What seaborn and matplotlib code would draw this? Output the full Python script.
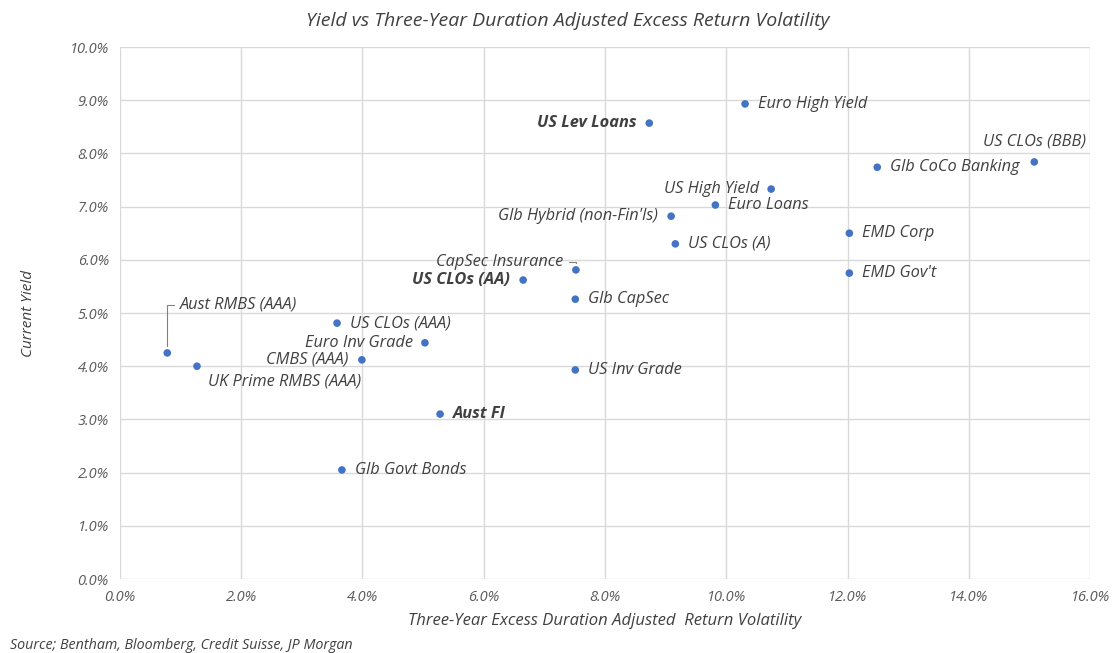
import numpy as np
import pandas as pd
import matplotlib
matplotlib.use("Agg")
import matplotlib.pyplot as plt
import seaborn as sns
from matplotlib.ticker import PercentFormatter

# data (x: volatility %, y: current yield %)
names = ["Aust RMBS (AAA)", "UK Prime RMBS (AAA)", "US CLOs (AAA)", "CMBS (AAA)",
         "Euro Inv Grade", "Glb Govt Bonds", "Aust FI", "US CLOs (AA)",
         "CapSec Insurance", "Glb CapSec", "US Inv Grade", "US Lev Loans",
         "Euro High Yield", "US High Yield", "Euro Loans", "Glb Hybrid (non-Fin'ls)",
         "US CLOs (A)", "EMD Corp", "EMD Gov't", "Glb CoCo Banking", "US CLOs (BBB)"]
volatility = [0.78, 1.27, 3.58, 3.99, 5.03, 3.66, 5.28, 6.65, 7.52, 7.51, 7.51,
              8.73, 10.31, 10.74, 9.82, 9.09, 9.16, 12.03, 12.03, 12.49, 15.08]
current_yield = [4.25, 4.00, 4.81, 4.12, 4.44, 2.05, 3.10, 5.62, 5.81, 5.26, 3.93,
                 8.57, 8.93, 7.33, 7.03, 6.82, 6.30, 6.50, 5.75, 7.74, 7.84]
bold_names = ["US Lev Loans", "US CLOs (AA)", "Aust FI"]

# label placement (offset in pixels, horizontal alignment)
label_pos = {
    "Aust RMBS (AAA)": (13, 48, "left"),
    "UK Prime RMBS (AAA)": (11, -15, "left"),
    "CMBS (AAA)": (-14, 0, "right"),
    "Euro Inv Grade": (-12, 0, "right"),
    "US CLOs (AA)": (-13, 0, "right"),
    "CapSec Insurance": (-13, 8, "right"),
    "US Lev Loans": (-13, 0, "right"),
    "US High Yield": (-12, 0, "right"),
    "Glb Hybrid (non-Fin'ls)": (-13, 0, "right"),
    "US CLOs (BBB)": (0, 20, "center"),
}
leaders = ["Aust RMBS (AAA)", "CapSec Insurance"]

df = pd.DataFrame({"name": names, "vol": volatility, "yld": current_yield})

sns.set_style("white")
plt.rcParams["font.family"] = ["Open Sans", "DejaVu Sans"]

fig = plt.figure(figsize=(11.14, 6.53), dpi=100)
ax = fig.add_axes([0.1077, 0.1133, 0.8708, 0.8147])

sns.scatterplot(data=df, x="vol", y="yld", ax=ax, color="#4472C4", s=30,
                edgecolor="none", zorder=3)

text_col = "#404040"
for _, r in df.iterrows():
    dx, dy, ha = label_pos.get(r["name"], (13, 0, "left"))
    kw = {}
    if r["name"] in leaders:
        kw["arrowprops"] = dict(arrowstyle="-", color="#808080", lw=0.8,
                                connectionstyle="angle,angleA=0,angleB=90",
                                shrinkA=2, shrinkB=5)
    ax.annotate(r["name"], (r["vol"], r["yld"]), xytext=(dx, dy),
                textcoords="offset pixels", ha=ha, va="center",
                fontsize=11.8, style="italic", color=text_col,
                fontweight="bold" if r["name"] in bold_names else "normal", **kw)

ax.set_xlim(0, 16)
ax.set_ylim(0, 10)
ax.set_xticks(np.arange(0, 16.1, 2))
ax.set_yticks(np.arange(0, 10.1, 1))
ax.xaxis.set_major_formatter(PercentFormatter(decimals=1))
ax.yaxis.set_major_formatter(PercentFormatter(decimals=1))
ax.grid(True, color="#d9d9d9", lw=1)
for s in ax.spines.values():
    s.set_visible(False)
ax.tick_params(length=0, labelsize=10.5, labelcolor="#595959", pad=8)
for lab in ax.get_xticklabels() + ax.get_yticklabels():
    lab.set_style("italic")

ax.set_xlabel("Three-Year Excess Duration Adjusted  Return Volatility",
              fontsize=12, style="italic", color=text_col, labelpad=6)
ax.set_ylabel("Current Yield", fontsize=11, style="italic", color=text_col, labelpad=24)

fig.text(0.51, 0.968, "Yield vs Three-Year Duration Adjusted Excess Return Volatility",
         ha="center", va="center", fontsize=14, style="italic", color=text_col)
fig.text(0.009, 0.012, "Source; Bentham, Bloomberg, Credit Suisse, JP Morgan",
         ha="left", va="center", fontsize=10.3, style="italic", color="#404040")

fig.savefig("out.png", dpi=100)
